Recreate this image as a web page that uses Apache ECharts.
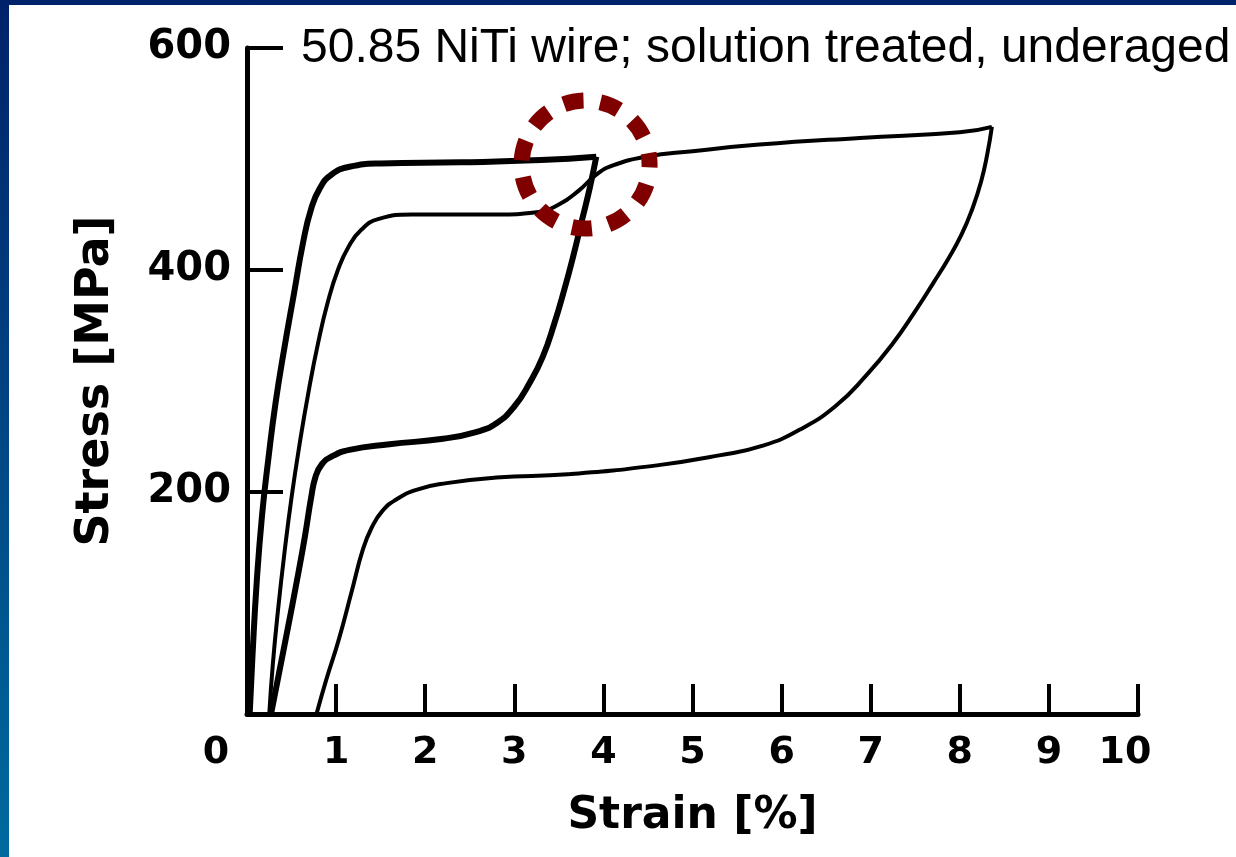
<!DOCTYPE html>
<html>
<head>
<meta charset="utf-8">
<script src="https://cdn.jsdelivr.net/npm/echarts@6/dist/echarts.min.js"></script>
<style>
html, body { margin: 0; padding: 0; width: 1236px; height: 857px; overflow: hidden; }
body { background: linear-gradient(to bottom, #00226a, #006a9f); }
#paper { position: absolute; left: 9px; top: 5px; right: 0; bottom: 0; background: #fff; }
#chart { position: absolute; left: 0; top: 0; width: 1236px; height: 857px; }
</style>
</head>
<body>
<div id="paper"></div>
<div id="chart"></div>
<script>
var titleText = '50.85 NiTi wire; solution treated, underaged';

// [strain %, stress MPa]
// first cycle (thick line), loading then unloading
var firstLoad = [[0.03,0],[0.06,50],[0.11,120],[0.17,180],[0.24,230],[0.32,280],[0.42,330],[0.53,380],
  [0.63,425],[0.72,455],[0.82,474],[0.95,486],[1.15,493],[1.5,496],[2.4,497],[3.3,499],[3.92,502]];
var firstUnload = [[3.92,502],[3.85,475],[3.76,445],[3.66,412],[3.56,382],[3.45,352],[3.32,322],[3.17,298],
  [3.0,277],[2.80,262],[2.57,254],[2.2,248],[1.6,243],[1.15,238],[0.95,232],[0.84,225],[0.77,214],
  [0.72,195],[0.65,160],[0.56,120],[0.46,78],[0.36,37],[0.27,0]];
// second cycle (thin line) to 8.4 %
var secondLoad = [[0.25,0],[0.29,45],[0.35,95],[0.42,145],[0.50,195],[0.59,243],[0.69,290],[0.80,335],
  [0.91,372],[1.02,400],[1.14,421],[1.28,436],[1.48,446],[1.85,450],[2.80,450],[3.25,452],[3.50,459],
  [3.73,472],[3.92,486],[4.10,494],[4.48,502],[5.0,507],[5.75,513],[6.88,519],[8.0,524],[8.36,529]];
var secondUnload = [[8.36,529],[8.31,505],[8.24,480],[8.14,455],[8.02,432],[7.87,410],[7.70,388],[7.50,363],
  [7.25,334],[6.95,305],[6.6,277],[6.2,256],[5.8,242],[5.3,233],[4.6,224],[3.6,216],[2.8,213],[2.24,208],
  [1.90,202],[1.67,193],[1.52,183],[1.40,168],[1.30,148],[1.18,112],[1.03,67],[0.89,31],[0.78,0]];
// spot circled on the slide
var markedPoint = [[3.8, 495]];

var labelFont = 'DejaVu Sans';

function curve(data, width) {
  return {
    type: 'line',
    data: data,
    symbol: 'none',
    smooth: 0.5,
    silent: true,
    lineStyle: { color: '#000', width: width },
    z: 2
  };
}

var chart = echarts.init(document.getElementById('chart'), null, { renderer: 'canvas' });

var option = {
  animation: false,
  backgroundColor: 'transparent',
  title: {
    text: titleText,
    left: 301,
    top: 25,
    padding: 0,
    textStyle: { fontFamily: 'Liberation Sans', fontSize: 48, fontWeight: 'normal', color: '#000' }
  },
  grid: { left: 247, top: 48, width: 891, height: 666 },
  xAxis: {
    type: 'value',
    min: 0,
    max: 10,
    interval: 1,
    name: 'Strain [%]',
    nameLocation: 'middle',
    nameGap: 81,
    nameMoveOverlap: false,
    nameTextStyle: { fontFamily: labelFont, fontWeight: 'bold', fontSize: 44, color: '#000' },
    axisLine: { lineStyle: { color: '#000', width: 5 } },
    axisTick: { inside: true, length: 30, lineStyle: { color: '#000', width: 4 } },
    splitLine: { show: false },
    axisLabel: {
      margin: 20,
      fontFamily: labelFont,
      fontWeight: 'bold',
      fontSize: 38,
      color: '#000',
      formatter: function (v) {
        if (v === 0) return '{z|0}';
        if (v === 10) return '{t|10}';
        return v;
      },
      rich: {
        z: { fontFamily: labelFont, fontWeight: 'bold', fontSize: 38, color: '#000', padding: [0, 62, 0, 0] },
        t: { fontFamily: labelFont, fontWeight: 'bold', fontSize: 38, color: '#000', padding: [0, 26, 0, 0] }
      }
    }
  },
  yAxis: {
    type: 'value',
    min: 0,
    max: 600,
    interval: 200,
    name: 'Stress [MPa]',
    nameLocation: 'middle',
    nameGap: 128,
    nameMoveOverlap: false,
    nameTextStyle: { fontFamily: labelFont, fontWeight: 'bold', fontSize: 46, color: '#000' },
    axisLine: { show: true, lineStyle: { color: '#000', width: 5 } },
    axisTick: { show: true, inside: true, length: 36, lineStyle: { color: '#000', width: 4 } },
    splitLine: { show: false },
    axisLabel: {
      margin: 16,
      fontFamily: labelFont,
      fontWeight: 'bold',
      fontSize: 40,
      color: '#000',
      formatter: function (v) { return v === 0 ? '' : v; }
    }
  },
  series: [
    curve(firstLoad, 6),
    curve(firstUnload, 6),
    curve(secondLoad, 4),
    curve(secondUnload, 4),
    {
      type: 'scatter',
      data: markedPoint,
      symbol: 'circle',
      symbolSize: 128,
      silent: true,
      z: 5,
      itemStyle: {
        color: 'rgba(0,0,0,0)',
        opacity: 1,
        borderColor: '#800000',
        borderWidth: 16,
        borderType: [20, 17],
        borderDashOffset: 17
      }
    }
  ]
};

chart.setOption(option);
</script>
</body>
</html>
